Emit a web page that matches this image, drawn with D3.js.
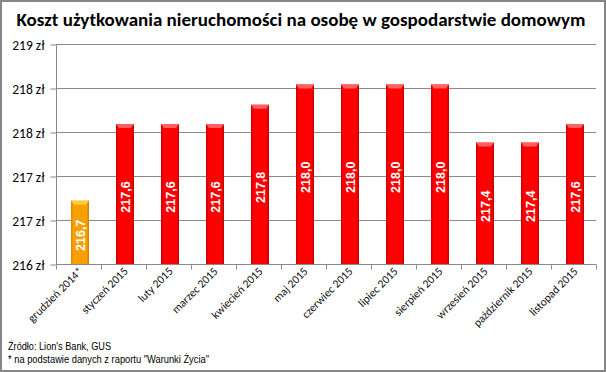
<!DOCTYPE html>
<html><head><meta charset="utf-8">
<script src="https://cdn.jsdelivr.net/npm/d3@7"></script>
<style>body{margin:0;background:#fff}svg{display:block}</style>
</head><body><svg id="c" width="606" height="372"></svg>
<script>
const categories = ["grudzień 2014*","styczeń 2015","luty 2015","marzec 2015","kwiecień 2015","maj 2015","czerwiec 2015","lipiec 2015","sierpień 2015","wrzesień 2015","październik 2015","listopad 2015"];
const values = [216.72,217.59,217.59,217.59,217.81,218.04,218.04,218.04,218.04,217.38,217.38,217.59];
const yTicks = [216,216.5,217,217.5,218,218.5];
const title = "Koszt użytkowania nieruchomości na osobę w gospodarstwie domowym";
const notes = ["Źródło: Lion's Bank, GUS", "* na podstawie danych z raportu \"Warunki Życia\""];

const svg = d3.select("#c");
const W=606,H=372;
svg.append("rect").attr("x",1).attr("y",1).attr("width",W-2).attr("height",H-2).attr("fill","#fff").attr("stroke","#868686").attr("stroke-width",2);

const x = d3.scaleBand().domain(categories).range([56,596]).paddingInner(0).paddingOuter(0);
const y = d3.scaleLinear().domain([216,218.5]).range([264,44]);

const defs = svg.append("defs");
function grad(id, stops){
  const g=defs.append("linearGradient").attr("id",id).attr("x1","0").attr("x2","1").attr("y1","0").attr("y2","0");
  stops.forEach(s=>g.append("stop").attr("offset",s[0]).attr("stop-color",s[1]));
}
grad("gRed",[[0,"#c40000"],[0.14,"#ff0000"],[0.86,"#ff0000"],[1,"#bb0000"]]);
grad("gOr",[[0,"#d88a00"],[0.14,"#f7a000"],[0.86,"#f7a000"],[1,"#d08000"]]);

// gridlines
svg.append("g").selectAll("line").data(yTicks).join("line")
  .attr("x1",56).attr("x2",596).attr("y1",d=>y(d)+0.5).attr("y2",d=>y(d)+0.5)
  .attr("stroke","#8a8a8a").attr("stroke-width",1);

// y axis
const yAxis = d3.axisLeft(y).tickValues(yTicks).tickSize(6).tickPadding(6).tickFormat(d=>Math.round(d)+" zł");
const ga = svg.append("g").attr("transform","translate(56.5,0.5)").call(yAxis);
ga.selectAll(".tick line").attr("stroke","#8a8a8a");
ga.selectAll("text").attr("font-family","Carlito, Lato, 'Open Sans', sans-serif").attr("font-size",13.5).attr("fill","#000").attr("dy","0.35em");
ga.select(".domain").attr("stroke","#8a8a8a").attr("d","M0,"+(44-0.5)+"V"+(264-0.5));

// x axis
const xAxis = d3.axisBottom(x).tickSize(0).tickFormat("");
const gx = svg.append("g").attr("transform","translate(0,264.5)").call(xAxis);
gx.select(".domain").attr("stroke","#8a8a8a").attr("d","M56,0H596");
const bounds = [56].concat(categories.map(c=>x(c)+x.bandwidth()));
gx.selectAll(".edge").data(bounds).join("line").attr("x1",d=>Math.round(d)+0.5).attr("x2",d=>Math.round(d)+0.5).attr("y1",0).attr("y2",5).attr("stroke","#8a8a8a");

// bars
const bw = 18;
const bars = svg.append("g").selectAll("g").data(categories).join("g");
bars.append("rect")
  .attr("x",d=>x(d)+x.bandwidth()/2-bw/2+1.5).attr("y",(d,i)=>y(values[i]))
  .attr("width",bw).attr("height",(d,i)=>264-y(values[i]))
  .attr("fill",(d,i)=>i===0?"url(#gOr)":"url(#gRed)");
bars.append("path")
  .attr("d",(d,i)=>{const l=x(d)+x.bandwidth()/2-bw/2+1.5, t=y(values[i]); return `M${l},${t}H${l+bw}L${l+bw-3},${t+4}H${l+3}Z`;})
  .attr("fill",(d,i)=>i===0?"#ffd23a":"#ff6a6a").attr("opacity",0.9);

// value labels
bars.append("text")
  .attr("transform",(d,i)=>{const cx=x(d)+x.bandwidth()/2+1.5, cy=(y(values[i])+264)/2+3; return `translate(${cx+4.5},${cy}) rotate(-90)`;})
  .attr("text-anchor","middle")
  .attr("font-family","'Liberation Sans', Arial, sans-serif").attr("font-weight","bold").attr("font-size",12.5)
  .attr("fill","#fff")
  .text((d,i)=>values[i].toFixed(1).replace(".",","));

// category labels
svg.append("g").selectAll("text").data(categories).join("text")
  .attr("transform",d=>`translate(${x(d)+x.bandwidth()/2+5},${272}) rotate(-45)`)
  .attr("text-anchor","end")
  .attr("font-family","Carlito, Lato, 'Open Sans', sans-serif").attr("font-size",11.5).attr("fill","#111")
  .text(d=>d);

// title
const t = svg.append("text").attr("x",301).attr("y",26).attr("text-anchor","middle")
  .attr("font-family","Carlito, Lato, 'Open Sans', sans-serif").attr("font-weight","bold").attr("font-size",18).attr("fill","#000")
  .text(title);
const tl = t.node().getComputedTextLength();
t.attr("font-size",18*569/tl);

// notes
const noteLen = [103, 201];
svg.append("g").selectAll("text").data(notes).join("text")
  .attr("x",8).attr("y",(d,i)=>350+i*13)
  .attr("font-family","'Liberation Sans', Arial, sans-serif").attr("font-size",11.5).attr("fill","#000")
  .attr("textLength",(d,i)=>noteLen[i]).attr("lengthAdjust","spacingAndGlyphs")
  .text(d=>d);
</script></body></html>
